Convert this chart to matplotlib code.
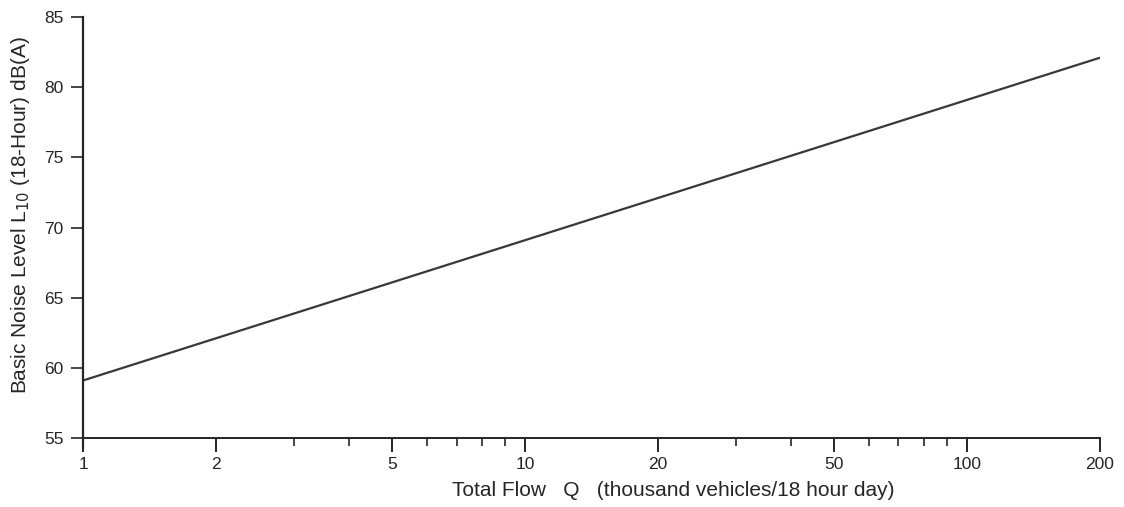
import matplotlib
matplotlib.use("Agg")
import matplotlib.pyplot as plt
from matplotlib.ticker import FixedLocator, NullFormatter

# Basic noise level vs total 18-hour flow (L10 = 59.1 + 10 log Q)
flow_q = [1, 200]
noise_l10 = [59.1, 82.1]

x_major = [1, 2, 5, 10, 20, 50, 100, 200]
x_major_labels = ["1", "2", "5", "10", "20", "50", "100", "200"]
x_minor = [3, 4, 6, 7, 8, 9, 30, 40, 60, 70, 80, 90]
y_ticks = [55, 60, 65, 70, 75, 80, 85]

plt.rcParams['font.family'] = ['Liberation Sans', 'DejaVu Sans']
ink = "#252525"

fig = plt.figure(figsize=(11.24, 5.07), dpi=100)
ax = fig.add_axes([83 / 1124, 1 - 448 / 507, (1100 - 83) / 1124, (448 - 17) / 507])

ax.plot(flow_q, noise_l10, color="#383838", lw=1.6, solid_capstyle="butt")

ax.set_xscale("log")
ax.set_xlim(1, 200)
ax.set_ylim(54.29, 85)

for s in ["top", "right"]:
    ax.spines[s].set_visible(False)
ax.spines["bottom"].set_position(("data", 55))
ax.spines["bottom"].set_color(ink)
ax.spines["left"].set_color(ink)
ax.spines["bottom"].set_linewidth(1.4)
ax.spines["left"].set_linewidth(1.6)

ax.xaxis.set_major_locator(FixedLocator(x_major))
ax.set_xticklabels(x_major_labels)
ax.xaxis.set_minor_locator(FixedLocator(x_minor))
ax.xaxis.set_minor_formatter(NullFormatter())
ax.set_yticks(y_ticks)
ax.set_yticklabels([str(v) for v in y_ticks])

ax.tick_params(axis="x", which="major", direction="out", length=10, width=1.4,
               color=ink, labelsize=12.5, labelcolor=ink, pad=4)
ax.tick_params(axis="x", which="minor", direction="out", length=6, width=1.2, color=ink)
ax.tick_params(axis="y", which="major", direction="out", length=9, width=1.2,
               color=ink, labelsize=12.5, labelcolor=ink, pad=5)

ax.set_xlabel("Total Flow   Q   (thousand vehicles/18 hour day)", fontsize=15, color=ink)
ax.xaxis.set_label_coords((673 - 83) / (1100 - 83), -0.077)
ax.set_ylabel("Basic Noise Level L$_{10}$ (18-Hour) dB(A)", fontsize=15, color=ink)
ax.yaxis.set_label_coords(-0.05, 0.54)

fig.savefig("out.png", dpi=100, facecolor="white")
